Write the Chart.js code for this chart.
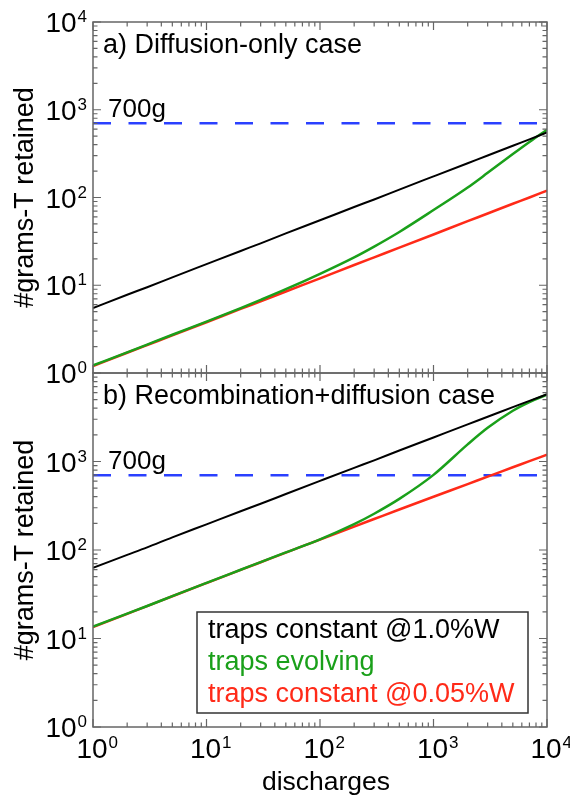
<!DOCTYPE html>
<html>
<head>
<meta charset="utf-8">
<script src="https://cdn.jsdelivr.net/npm/chart.js@4/dist/chart.umd.min.js"></script>
<style>
  html, body { margin: 0; padding: 0; background: #fff; }
  #wrap { position: relative; width: 570px; height: 796px; }
  #wrap canvas { position: absolute; left: 0; top: 0; }
</style>
</head>
<body>
<div id="wrap">
  <canvas id="botChart" width="570" height="796"></canvas>
  <canvas id="topChart" width="570" height="796"></canvas>
</div>
<script>
// discharges (x) sampled along the curves
const discharges = [1, 2, 3, 5, 10, 20, 30, 50, 100, 200, 300, 500, 1000, 2000, 3000, 5000, 7000, 10000];

// a) Diffusion-only case
const diffConst10 = [5.5, 7.8, 9.5, 12.3, 17.4, 24.6, 30, 39, 55, 78, 95, 123, 174, 246, 301, 389, 460, 550];
const diffEvolving = [1.22, 1.72, 2.11, 2.73, 3.85, 5.49, 6.81, 9.01, 13.5, 20.8, 27.6, 40.5, 71.9, 130, 191, 313, 430, 593];
const diffConst005 = [1.2, 1.7, 2.08, 2.68, 3.79, 5.37, 6.57, 8.49, 12, 17, 20.8, 26.8, 37.9, 53.7, 65.7, 84.9, 100, 120];

// b) Recombination+diffusion case
const recConst10 = [63, 88, 107, 139, 195, 274, 333, 429, 604, 848, 1030, 1330, 1870, 2630, 3200, 4120, 4840, 5750];
const recEvolving = [13.6, 19.1, 23.3, 30.1, 42.5, 59.8, 73, 94, 132, 196, 257, 378, 706, 1560, 2400, 3750, 4700, 5700];
const recConst005 = [13.5, 19, 23.2, 30, 42.3, 59.5, 72.7, 93.6, 131, 184, 224, 287, 400, 556, 675, 860, 1010, 1195];

const limitGrams = 700;
const limitLabel = "700g";

const majorTicks = [1, 10, 100, 1000, 10000];
const tickExponents = ["0", "1", "2", "3", "4"];
const minorTicks = [];
majorTicks.slice(0, 4).forEach(m => { for (let k = 2; k <= 9; k++) minorTicks.push(m * k); });

const seriesLabels = ["traps constant @1.0%W", "traps evolving", "traps constant @0.05%W"];
const seriesColors = ["#000000", "#1aa01a", "#ff2a18"];
const limitColor = "#2a40ff";

const FONT = '"Liberation Sans", Arial, sans-serif';
const frameColor = "#666666";

function pts(ys) {
  return discharges.map((x, i) => ({ x: x, y: ys[i] }));
}

function makeDatasets(black, green, red) {
  // chart.js paints the first dataset last, so green ends up above red
  const lines = [black, green, red].map((ys, i) => ({
    label: seriesLabels[i],
    data: pts(ys),
    borderColor: seriesColors[i],
    backgroundColor: seriesColors[i],
    borderWidth: i === 0 ? 2 : 2.5,
    pointRadius: 0,
    cubicInterpolationMode: "monotone",
    fill: false
  }));
  lines.push({
    label: limitLabel,
    data: [{ x: discharges[0], y: limitGrams }, { x: discharges[discharges.length - 1], y: limitGrams }],
    borderColor: limitColor,
    borderWidth: 2.5,
    borderDash: [18, 17.5],
    pointRadius: 0,
    fill: false
  });
  return lines;
}

function powLabelY(ctx, exp, xRight, y) {
  ctx.font = "17px " + FONT;
  const ew = ctx.measureText(exp).width;
  ctx.textAlign = "left";
  ctx.fillText(exp, xRight - ew, y);
  ctx.font = "28px " + FONT;
  ctx.textAlign = "right";
  ctx.fillText("10", xRight - ew - 1, y + 10);
}

function powLabelX(ctx, exp, x, baseline) {
  ctx.font = "28px " + FONT;
  const w = ctx.measureText("10").width;
  ctx.textAlign = "center";
  ctx.fillText("10", x - 1, baseline);
  ctx.font = "17px " + FONT;
  ctx.textAlign = "left";
  ctx.fillText(exp, x - 1 + w / 2 + 1, baseline - 10);
}

const panelPlugin = {
  id: "panel",
  afterDraw(chart, args, opts) {
    const ctx = chart.ctx;
    const a = chart.chartArea;
    const xs = chart.scales.x, ys = chart.scales.y;
    ctx.save();

    // frame
    ctx.strokeStyle = frameColor;
    ctx.lineWidth = 1.5;
    ctx.strokeRect(a.left, a.top, a.right - a.left, a.bottom - a.top);

    // inward ticks on all four sides
    ctx.lineWidth = 1.2;
    ctx.beginPath();
    const tick = (v, len, axis) => {
      if (axis === "x") {
        const px = xs.getPixelForValue(v);
        ctx.moveTo(px, a.bottom); ctx.lineTo(px, a.bottom - len);
        ctx.moveTo(px, a.top); ctx.lineTo(px, a.top + len);
      } else {
        const py = ys.getPixelForValue(v);
        ctx.moveTo(a.left, py); ctx.lineTo(a.left + len, py);
        ctx.moveTo(a.right, py); ctx.lineTo(a.right - len, py);
      }
    };
    majorTicks.forEach(v => { tick(v, 8, "x"); tick(v, 8, "y"); });
    minorTicks.forEach(v => { tick(v, 4.5, "x"); tick(v, 4.5, "y"); });
    ctx.stroke();

    ctx.fillStyle = "#000";
    ctx.textBaseline = "alphabetic";

    // y tick labels
    majorTicks.forEach((v, i) => {
      if (opts.yLabelCount > i) powLabelY(ctx, tickExponents[i], a.left - 6, ys.getPixelForValue(v));
    });

    // x tick labels
    if (opts.showX) {
      majorTicks.forEach((v, i) => powLabelX(ctx, tickExponents[i], xs.getPixelForValue(v), a.bottom + 31));
      ctx.font = "26.5px " + FONT;
      ctx.textAlign = "center";
      ctx.fillText("discharges", (a.left + a.right) / 2 + 6, a.bottom + 63);
    }

    // y title
    ctx.save();
    ctx.translate(33, (a.top + a.bottom) / 2);
    ctx.rotate(-Math.PI / 2);
    ctx.font = "27px " + FONT;
    ctx.textAlign = "center";
    ctx.fillText("#grams-T retained", 0, 0);
    ctx.restore();

    // panel caption
    ctx.font = "27px " + FONT;
    ctx.textAlign = "left";
    ctx.fillText(opts.caption, a.left + 10, a.top + 31);

    // limit label
    ctx.font = "26px " + FONT;
    ctx.fillText(limitLabel, a.left + 15, ys.getPixelForValue(limitGrams) - 6);

    // legend
    if (opts.legend) {
      const L = 197, T = 612, W = 331, H = 101;
      ctx.fillStyle = "#fff";
      ctx.fillRect(L, T, W, H);
      ctx.strokeStyle = "#333";
      ctx.lineWidth = 1.5;
      ctx.strokeRect(L, T, W, H);
      ctx.font = "27px " + FONT;
      seriesLabels.forEach((s, i) => {
        ctx.fillStyle = seriesColors[i];
        ctx.fillText(s, L + 11, T + 26 + i * 32);
      });
    }
    ctx.restore();
  }
};

function makeChart(id, datasets, padding, opts) {
  return new Chart(document.getElementById(id).getContext("2d"), {
    type: "line",
    data: { datasets },
    plugins: [panelPlugin],
    options: {
      responsive: false,
      animation: false,
      devicePixelRatio: 1,
      layout: { padding },
      plugins: {
        legend: { display: false },
        tooltip: { enabled: false },
        panel: opts
      },
      scales: {
        x: { type: "logarithmic", min: 1, max: 10000, display: false },
        y: { type: "logarithmic", min: 1, max: 10000, display: false }
      }
    }
  });
}

makeChart("topChart", makeDatasets(diffConst10, diffEvolving, diffConst005),
  { left: 93, right: 23, top: 22, bottom: 423 },
  { caption: "a) Diffusion-only case", yLabelCount: 5, showX: false, legend: false });

makeChart("botChart", makeDatasets(recConst10, recEvolving, recConst005),
  { left: 93, right: 23, top: 373, bottom: 69 },
  { caption: "b) Recombination+diffusion case", yLabelCount: 4, showX: true, legend: true });
</script>
</body>
</html>
